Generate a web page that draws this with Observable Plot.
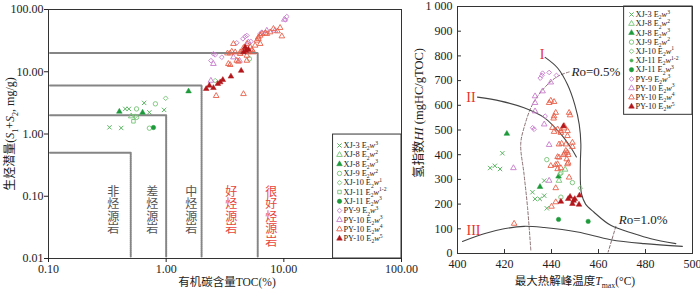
<!DOCTYPE html>
<html><head><meta charset="utf-8">
<script src="https://cdn.jsdelivr.net/npm/d3@7"></script>
<script src="https://cdn.jsdelivr.net/npm/@observablehq/plot@0.6"></script>
<style>
body{margin:0;background:#fff;}
#wrap{position:relative;width:700px;height:289px;overflow:hidden;background:#fff;}
#wrap svg{position:absolute;top:0;}
</style></head><body><div id="wrap"></div>
<script>
// ---------- data ----------
const seriesLabels = ["XJ-3 E2w3","XJ-8 E2w2","XJ-8 E2w3","XJ-9 E2w2","XJ-10 E2w1","XJ-11 E2w1-2","XJ-11 E2w3","PY-9 E2w3","PY-10 E2w3","PY-10 E2w4","PY-10 E2w5"];

// left panel: [TOC %, S1+S2 mg/g]
const xj3L   = [[0.33,1.28],[0.415,1.25],[0.449,2.53],[0.482,2.53],[0.65,3.16],[0.72,2.23],[0.96,2.44]];
const xj8w2L = [[0.505,1.93]];
const xj8w3L = [[0.40,2.29],[0.63,2.21],[1.55,4.86]];
const xj9L   = [[0.56,2.53],[0.81,3.05],[0.72,1.24],[0.56,1.85],[5.1,16.1]];
const xj10L  = [[0.99,3.75],[0.545,1.93],[2.61,7.2]];
const xj11aL = [[0.527,1.6]];
const xj11bL = [[0.78,1.27]];
const py9L   = [[3.98,29.2],[4.49,33.8],[4.69,36.8],[4.85,38.2],[2.52,19.4],[2.61,18.7],[2.4,15.1],[2.97,17.1],[6.3,40.7],[6.5,43.2],[10.3,68.3],[10.6,77],[5.25,30.6]];
const py10w3L = [[2.52,13.4],[2.4,7.2],[3.73,17.1],[4.2,15.1],[5.0,29.8],[7.17,45.9],[8.4,45.9],[10.1,69]];
const py10w4L = [[4.54,4.4],[2.66,4.1],[3.5,12.9],[3.32,19.8],[3.5,19.8],[3.61,21.1],[4.26,20.6],[4.54,21.9],[5.0,20.6],[5.35,22.5],[5.52,20.6],[4.85,15.1],[5.9,31.8],[6.3,28.1],[6.08,35.9],[6.5,40.7],[6.94,41.6],[7.65,43.2],[8.16,49],[8.83,44.8],[9.62,37.2],[9.3,50.8],[5.18,24.8],[5.7,26.4],[3.73,28.1],[3.38,13.4],[3.98,15.1],[4.11,14.6],[4.85,18.2],[4.26,19.4],[6.08,33.8],[6.3,38.2],[7.17,40.7],[4.54,24.2],[4.85,28.1],[3.86,20.6]];
const py10w5L = [[2.19,5.31],[2.33,6.0],[2.52,5.5],[2.75,6.4],[2.88,6.8],[3.03,7.4],[3.55,8.4],[4.34,10.4],[4.54,20.6],[4.69,24.8],[4.78,21.9],[5.0,22.8]];

// right panel: [Tmax °C, HI mgHC/gTOC]
const xj3R   = [[419.1,406],[413.9,346],[415.9,355],[418.1,342],[431.9,248],[433,221],[435,221],[436.9,234],[436.9,295],[438,183]];
const xj8w2R = [[445.8,340],[443.2,295]];
const xj8w3R = [[421,485],[435.1,270],[443,312]];
const xj9R   = [[438,380],[444,326],[448.9,287],[444,228]];
const xj10R  = [[443.7,322],[452.2,265]];
const xj11aR = [];
const xj11bR = [[443,138],[455.6,130]];
const py9R   = [[435.2,710],[435.9,721],[436.2,730],[439,733],[442.1,721],[432,509],[432.6,503],[437.3,556]];
const py10w3R = [[433,637],[436.2,657],[439.7,693],[433,610],[433,576],[436.9,523],[439,440],[423.8,346],[439,295]];
const py10w4R = [[439,610],[439.7,619],[441.1,614],[447.5,570],[447.9,560],[441.1,556],[441.8,570],[440.9,547],[440.4,509],[442.6,503],[444,496],[445.4,507],[446.8,496],[445.4,516],[441.1,493],[444,489],[446.8,476],[443.2,442],[444.3,445],[446.1,442],[448.9,449],[448.9,432],[446.1,416],[446.8,409],[445.7,405],[447.1,399],[445.1,399],[442.6,391],[443.2,389],[446.8,362],[447.1,368],[446.5,382],[439.7,355],[441.8,359],[442.6,362],[442.6,342],[444,346],[447.5,308],[441.8,265],[441.8,208],[440,190],[424.1,121]];
const py10w5R = [[447.1,221],[447.9,230],[449.4,214],[449.9,221],[448.9,201],[451.9,235],[451.7,198],[444,210],[445.1,516]];

// classification thresholds (left)
const tocCuts = [0.5, 1, 2, 6];
const s12Cuts = [0.5, 2, 6, 20];
const gradeLabels = ["非\n烃\n源\n岩","差\n烃\n源\n岩","中\n烃\n源\n岩","好\n烃\n源\n岩","很\n好\n烃\n源\n岩"];
const gradeToc = [0.355, 0.76, 1.63, 3.57, 7.8];

// kerogen curves (right)
const curveI   = [[437.3,794],[442.6,751],[446.8,684],[449.9,603],[451.8,523],[452.5,442],[452.3,375],[452.3,290],[452.8,240],[454.5,200],[458.1,167],[465.2,114],[475.2,80],[482.3,60],[492.9,40]];
const curveII  = [[408.5,633],[418.4,617],[428.3,590],[436.9,550],[444,483],[448.2,429],[450.6,391]];
const curveIII = [[402.1,49],[411.3,80],[419.8,100],[428.3,110],[436.9,105],[451.1,87],[465.2,56],[479.4,40],[495.7,29]];
const ro05 = [[447.5,735],[442.6,717],[436.9,670],[431.9,603],[428.3,509],[426.9,442],[428.3,322],[429.8,187],[431.2,13]];
const ro10 = [[467.4,110],[464.1,6]];
const typeLabels = ["I","II","III"];
const typeT  = [436, 405.7, 406.8];
const typeHI = [805, 630, 94];

const tocTicks = [0.1, 1, 10, 100];
const s12Ticks = [0.01, 0.1, 1, 10, 100];
const tmaxTicks = [400, 420, 440, 460, 480, 500];
const hiTicks = [0,100,200,300,400,500,600,700,800,900,1000];

// ---------- styles ----------
const FONT = "'Liberation Serif','Noto Sans CJK SC',serif";
const lightG="#74c474", midG="#4aae52", darkG="#1d9a3a", purp="#c77ccc", orng="#e8604a", dred="#b3161b";
const styleL = [
 {symbol:"times", color:midG, filled:false, r:2.1},
 {symbol:"triangle", color:lightG, filled:false, r:2.1},
 {symbol:"triangle", color:darkG, filled:true, r:2.1},
 {symbol:"circle", color:lightG, filled:false, r:2.2},
 {symbol:"diamond2", color:lightG, filled:false, r:2.1},
 {symbol:"square", color:lightG, filled:false, r:2},
 {symbol:"circle", color:darkG, filled:true, r:2.2},
 {symbol:"diamond2", color:purp, filled:false, r:2.1},
 {symbol:"triangle", color:purp, filled:false, r:2.1},
 {symbol:"triangle", color:orng, filled:false, r:2.1},
 {symbol:"triangle", color:dred, filled:true, r:2.1}];
const styleR = styleL.map((s,i)=> i===5 ? {symbol:"circle", color:midG, filled:true, r:1.6} : s);

const dataL = [xj3L,xj8w2L,xj8w3L,xj9L,xj10L,xj11aL,xj11bL,py9L,py10w3L,py10w4L,py10w5L];
const dataR = [xj3R,xj8w2R,xj8w3R,xj9R,xj10R,xj11aR,xj11bR,py9R,py10w3R,py10w4R,py10w5R];

function dotOpts(st){
  return {symbol: st.symbol, r: st.r,
    fill: st.filled ? st.color : "none",
    stroke: st.color, strokeWidth: st.filled ? 0.5 : 0.9};
}
function seriesDots(data, styles){
  return data.map((d,i)=> Plot.dot(d, {x: p=>p[0], y: p=>p[1], ...dotOpts(styles[i])}));
}
function legendMarks(styles, anchor, dxM, dxT, dy0, step){
  const m = [];
  seriesLabels.forEach((lab,i)=>{
    m.push(Plot.dot([lab], {frameAnchor: anchor, dx: dxM, dy: dy0 + step*i, ...dotOpts(styles[i])}));
    m.push(Plot.text([lab], {frameAnchor: anchor, dx: dxT, dy: dy0 + step*i, text: d=>d, textAnchor:"start", lineAnchor:"middle", fontSize: 8.3, fill:"#222"}));
  });
  return m;
}

// ---------- left plot ----------
const cutRows = tocCuts.flatMap((t,i)=>[
  {x:0.103, y:s12Cuts[i], k:i},{x:t, y:s12Cuts[i], k:i},{x:t, y:0.0108, k:i}]);

const left = Plot.plot({
  width: 430, height: 289, marginLeft: 48, marginRight: 29, marginTop: 9, marginBottom: 31,
  style: {fontFamily: FONT, fontSize: "12px", color: "#222", background: "transparent"},
  x: {type:"log", domain:[0.1,100], label:null},
  y: {type:"log", domain:[0.01,100], label:null},
  marks: [
    Plot.line(cutRows, {x:"x", y:"y", z:"k", stroke:"#858585", strokeWidth:2, strokeDasharray:"1.3,0.7"}),
    Plot.text(gradeLabels, {x:(d,i)=>gradeToc[i], y:()=>0.14, text:d=>d, lineAnchor:"top", lineHeight:1.04, fontSize:12,
      fill:(d,i)=> i>=3 ? "#e8453c" : "#555"}),
    ...seriesDots(dataL, styleL),
    Plot.rect([0], {x1:()=>26.2, x2:()=>100, y1:()=>0.01, y2:()=>0.98, fill:"white", stroke:"#333", strokeWidth:1}),
    ...legendMarks(styleL, "bottom-right", -62, -58, -113, 9.3),
    Plot.frame({stroke:"#333", strokeWidth:1}),
    Plot.axisX({ticks: tocTicks, tickFormat: d=>d.toFixed(2), tickSize:4, tickPadding:2, fill:"#222"}),
    Plot.axisY({ticks: s12Ticks, tickFormat: d=>d.toFixed(2), tickSize:4, tickPadding:1, fill:"#222"}),
    Plot.text(["生烃潜量(S1+S2, mg/g)"], {frameAnchor:"left", dx:-38, rotate:-90, text:d=>d, textAnchor:"middle", lineAnchor:"middle", fontSize:12, fill:"#222"}),
    Plot.text(["有机碳含量TOC(%)"], {frameAnchor:"bottom", dx:2, dy:24, text:d=>d, textAnchor:"middle", lineAnchor:"middle", fontSize:11.5, fill:"#222"})
  ]
});
left.style.left = "0px";

// ---------- right plot ----------
const right = Plot.plot({
  width: 297, height: 289, marginLeft: 54, marginRight: 8, marginTop: 6, marginBottom: 36,
  style: {fontFamily: FONT, fontSize: "12px", color: "#222", background: "transparent"},
  x: {domain:[400,500], label:null},
  y: {domain:[0,1000], label:null},
  marks: [
    Plot.line(ro05, {x:d=>d[0], y:d=>d[1], curve:"catmull-rom", stroke:"#8a6f72", strokeWidth:1, strokeDasharray:"3,2"}),
    Plot.line(ro10, {x:d=>d[0], y:d=>d[1], stroke:"#8a6f72", strokeWidth:1, strokeDasharray:"3,2"}),
    Plot.line(curveI, {x:d=>d[0], y:d=>d[1], curve:"catmull-rom", stroke:"#444", strokeWidth:1.1}),
    Plot.line(curveII, {x:d=>d[0], y:d=>d[1], curve:"catmull-rom", stroke:"#444", strokeWidth:1.1}),
    Plot.line(curveIII, {x:d=>d[0], y:d=>d[1], curve:"catmull-rom", stroke:"#444", strokeWidth:1.1}),
    Plot.text(typeLabels, {x:(d,i)=>typeT[i], y:(d,i)=>typeHI[i], text:d=>d, fill:"#e8322c", fontSize:14}),
    Plot.text(["Ro=0.5%"], {x:()=>448.5, y:()=>737, text:d=>d, textAnchor:"start", fontSize:13, fill:"#222"}),
    Plot.text(["Ro=1.0%"], {x:()=>468.6, y:()=>136, text:d=>d, textAnchor:"start", fontSize:13, fill:"#222"}),
    ...seriesDots(dataR, styleR),
    Plot.rect([0], {x1:()=>470.9, x2:()=>500, y1:()=>561.5, y2:()=>1000, fill:"white", stroke:"#333", strokeWidth:1}),
    ...legendMarks(styleR, "top-right", -61, -57, 8.0, 9.2),
    Plot.frame({stroke:"#333", strokeWidth:1}),
    Plot.ruleY(hiTicks, {y:d=>d, x1:()=>400, x2:()=>401.7, stroke:"#333"}),
    Plot.ruleX(tmaxTicks, {x:d=>d, y1:()=>0, y2:()=>16, stroke:"#333"}),
    Plot.axisX({ticks: tmaxTicks, tickSize:0, tickPadding:6, fill:"#222"}),
    Plot.axisY({ticks: hiTicks, tickFormat: d=> d===1000 ? "1 000" : String(d), tickSize:0, tickPadding:5, fill:"#222"}),
    Plot.text(["氢指数HI (mgHC/gTOC)"], {frameAnchor:"left", dx:-39, dy:-17, rotate:-90, text:d=>d, textAnchor:"middle", lineAnchor:"middle", fontSize:12.5, fill:"#222"}),
    Plot.text(["最大热解峰温度Tmax(°C)"], {frameAnchor:"bottom", dy:28, text:d=>d, textAnchor:"middle", lineAnchor:"middle", fontSize:11.5, fill:"#222"})
  ]
});
right.style.left = "403px";

const wrap = document.getElementById("wrap");
wrap.appendChild(left);
wrap.appendChild(right);

// ---------- rich text (italic / sub / sup) ----------
const NS = "http://www.w3.org/2000/svg";
function setRich(el, segs){
  const fs = parseFloat(getComputedStyle(el).fontSize) || 12;
  while (el.firstChild) el.removeChild(el.firstChild);
  let cur = 0;
  for (const s of segs){
    const t = document.createElementNS(NS, "tspan");
    t.textContent = s.t;
    const target = s.sub ? 0.28*fs : s.sup ? -0.42*fs : 0;
    if (target !== cur) { t.setAttribute("dy", (target-cur).toFixed(2)); cur = target; }
    if (s.sub || s.sup) t.setAttribute("font-size", (0.68*fs).toFixed(2));
    if (s.it) t.setAttribute("font-style", "italic");
    el.appendChild(t);
  }
}
function allTexts(){ return Array.from(wrap.querySelectorAll("text")); }
for (const el of allTexts()){
  const s = el.textContent;
  let m;
  if ((m = s.match(/^(.* E)(\d)w(.+)$/))) {
    setRich(el, [{t:m[1]},{t:m[2],sub:true},{t:"w",it:true},{t:m[3],sup:true}]);
  } else if (s === "生烃潜量(S1+S2, mg/g)") {
    setRich(el, [{t:"生烃潜量("},{t:"S",it:true},{t:"1",sub:true},{t:"+"},{t:"S",it:true},{t:"2",sub:true},{t:", mg/g)"}]);
  } else if (s === "氢指数HI (mgHC/gTOC)") {
    setRich(el, [{t:"氢指数"},{t:"HI",it:true},{t:" (mgHC/gTOC)"}]);
  } else if (s === "最大热解峰温度Tmax(°C)") {
    setRich(el, [{t:"最大热解峰温度"},{t:"T",it:true},{t:"max",sub:true},{t:"(°C)"}]);
  } else if (s === "Ro=0.5%" || s === "Ro=1.0%") {
    setRich(el, [{t:"R",it:true},{t:s.slice(1)}]);
  }
}
</script>
</body></html>
